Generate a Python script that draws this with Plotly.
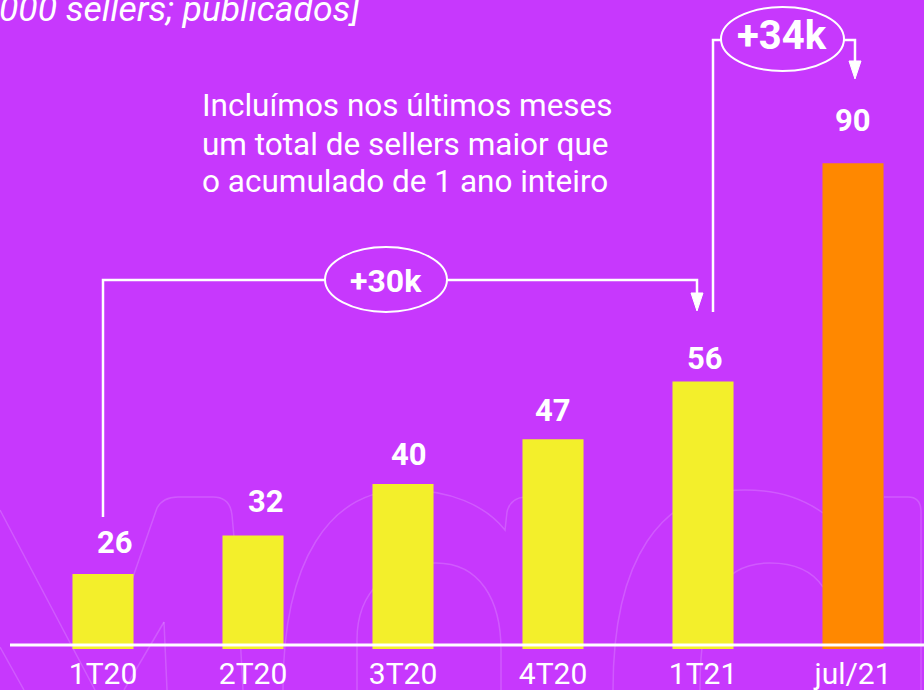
import plotly.graph_objects as go

# ---------------- data ----------------
categories = ["1T20", "2T20", "3T20", "4T20", "1T21", "jul/21"]
sellers = [26, 32, 40, 47, 56, 90]
bar_colors = ["#f3ef2b", "#f3ef2b", "#f3ef2b", "#f3ef2b", "#f3ef2b", "#ff8800"]
label_texts = ["26", "32", "40", "47", "56", "90"]
increase_labels = ["+30k", "+34k"]
note_lines = ["Incluímos nos últimos meses", "um total de sellers maior que", "o acumulado de 1 ano inteiro"]
title_text = "000 sellers; publicados]"

# ---------------- layout constants ----------------
W, H = 924, 690
MB = 41
PH = H - MB
BG = "#c738fd"
WHITE = "#ffffff"
WM = "rgba(255,255,255,0.17)"

# label nudges (px): [dx, dy above bar top]
label_dx = [12, 13, 6, 0, 2, 0]
label_dy = [31, 34, 30, 29, 23, 43]
note_y = [105, 144, 181]


def X(px):
    return px / W


def Y(py):
    return (PH - py) / PH


def path(points):
    s = ""
    for i, (a, b) in enumerate(points):
        s += ("M" if i == 0 else " L") + f" {X(a):.5f},{Y(b):.5f}"
    return s


fig = go.Figure()
fig.add_trace(go.Bar(
    x=list(range(len(categories))), y=sellers,
    marker=dict(color=bar_colors, line=dict(width=0)),
    width=0.407, hoverinfo="skip", showlegend=False,
))

shapes = []


def conv(d):
    out = []
    for tok in d.split():
        if "," in tok:
            a, b = tok.split(",")
            out.append(f"{X(float(a)):.5f},{Y(float(b)):.5f}")
        else:
            out.append(tok)
    return " ".join(out)


def wm_path(d):
    shapes.append(dict(type="path", xref="paper", yref="paper", path=conv(d), layer="below",
                       line=dict(color=WM, width=1.5)))


# ---- faint watermark (background logo outlines) ----
wm_path("M 0,510 L 95,690")
wm_path("M 0,647 L 24,690")
wm_path("M 125,600 L 157,508 Q 163,497 178,497 L 213,497 Q 230,497 232,515 L 236,560 L 243,690")
wm_path("M 164,622 L 124,690")
wm_path("M 164,622 L 167,690")
wm_path("M 283,690 C 283,560 330,490 405,490 C 450,490 485,505 505,530 L 507,512 Q 510,498 525,497")
wm_path("M 357,690 L 357,640 C 357,590 390,563 436,563 C 480,563 501,600 501,650 L 501,690")
wm_path("M 613,690 C 613,560 660,490 745,490 C 780,490 805,500 823,513")
wm_path("M 700,690 C 700,600 720,563 770,563 C 800,563 815,575 823,587")
wm_path("M 884,497 L 908,497 Q 921,497 921,512 L 921,690")

# ---- baseline ----
shapes.append(dict(type="line", xref="paper", yref="paper", x0=X(10), x1=X(924), y0=Y(645), y1=Y(645),
                   line=dict(color=WHITE, width=3), layer="above"))

LW = 2.5
# ---- +30k bracket ----
shapes.append(dict(type="path", xref="paper", yref="paper",
                   path=path([(103, 517), (103, 280), (325, 280)]), line=dict(color=WHITE, width=LW)))
shapes.append(dict(type="path", xref="paper", yref="paper",
                   path=path([(447, 280), (697, 280), (697, 296)]), line=dict(color=WHITE, width=LW)))
shapes.append(dict(type="path", xref="paper", yref="paper",
                   path=path([(691, 293), (703, 293), (697, 311)]) + " Z",
                   fillcolor=WHITE, line=dict(color=WHITE, width=1)))
shapes.append(dict(type="circle", xref="paper", yref="paper", x0=X(325), x1=X(447), y0=Y(312), y1=Y(247),
                   line=dict(color=WHITE, width=2), fillcolor=BG))

# ---- +34k bracket ----
shapes.append(dict(type="path", xref="paper", yref="paper",
                   path=path([(713, 312), (713, 40), (721, 40)]), line=dict(color=WHITE, width=LW)))
shapes.append(dict(type="path", xref="paper", yref="paper",
                   path=path([(844, 40), (855, 40), (855, 63)]), line=dict(color=WHITE, width=LW)))
shapes.append(dict(type="path", xref="paper", yref="paper",
                   path=path([(849, 61), (861, 61), (855, 79)]) + " Z",
                   fillcolor=WHITE, line=dict(color=WHITE, width=1)))
shapes.append(dict(type="circle", xref="paper", yref="paper", x0=X(721), x1=X(844), y0=Y(71), y1=Y(7),
                   line=dict(color=WHITE, width=2), fillcolor=BG))

annotations = []
# value labels
for i, v in enumerate(sellers):
    annotations.append(dict(x=i, y=v, xref="x", yref="y", text=f"<b>{label_texts[i]}</b>",
                            showarrow=False, xanchor="center", yanchor="middle",
                            xshift=label_dx[i], yshift=label_dy[i],
                            font=dict(family="Roboto", size=31, color=WHITE)))

# increase labels
annotations.append(dict(x=X(386), y=Y(281), xref="paper", yref="paper", text=f"<b>{increase_labels[0]}</b>",
                        showarrow=False, xanchor="center", yanchor="middle",
                        font=dict(family="Roboto", size=32, color=WHITE)))
annotations.append(dict(x=X(782), y=Y(35), xref="paper", yref="paper", text=f"<b>{increase_labels[1]}</b>",
                        showarrow=False, xanchor="center", yanchor="middle",
                        font=dict(family="Roboto", size=40, color=WHITE)))

# note (one annotation per line for exact spacing)
for line, yy in zip(note_lines, note_y):
    annotations.append(dict(x=X(200), y=Y(yy), xref="paper", yref="paper", text=line,
                            showarrow=False, xanchor="left", yanchor="middle", align="left",
                            font=dict(family="Roboto", size=31.5, color=WHITE)))

# title (cut at top-left, as in the source image)
annotations.append(dict(x=X(362), y=Y(9), xref="paper", yref="paper", text=f"<i>{title_text}</i>",
                        showarrow=False, xanchor="right", yanchor="middle",
                        font=dict(family="Roboto", size=35.5, color=WHITE)))

fig.update_layout(
    width=W, height=H,
    margin=dict(l=0, r=0, t=0, b=MB),
    paper_bgcolor=BG, plot_bgcolor=BG,
    bargap=0.59,
    shapes=shapes, annotations=annotations,
    xaxis=dict(
        tickmode="array", tickvals=list(range(len(categories))), ticktext=categories,
        range=[-103 / 150, (W - 103) / 150],
        showgrid=False, zeroline=False, showline=False, ticks="",
        ticklabelstandoff=4,
        tickfont=dict(family="Roboto", size=30, color=WHITE),
    ),
    yaxis=dict(range=[14.3, 115.46], visible=False, showgrid=False, zeroline=False),
    showlegend=False,
)

fig.write_html("out.html", config={"displayModeBar": False},
               post_script="document.body.style.margin='0';document.body.style.overflow='hidden';")
